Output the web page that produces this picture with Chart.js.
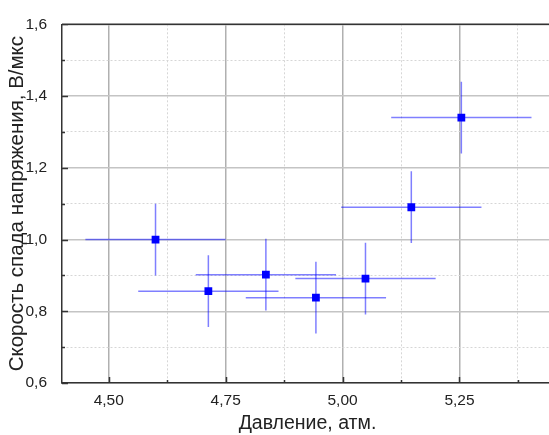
<!DOCTYPE html>
<html>
<head>
<meta charset="utf-8">
<script src="https://cdn.jsdelivr.net/npm/chart.js@4"></script>
<style>
  html, body { margin: 0; padding: 0; background: #fff; overflow: hidden; }
  #wrap { width: 549px; height: 435px; overflow: hidden; }
</style>
</head>
<body>
<div id="wrap"><canvas id="chart" width="560" height="435"></canvas></div>
<script>
const pressure = [4.600, 4.713, 4.836, 4.943, 5.049, 5.147, 5.254];
const pressureErr = [0.15, 0.15, 0.15, 0.15, 0.15, 0.15, 0.15];
const rate = [1.000, 0.856, 0.902, 0.838, 0.891, 1.090, 1.340];
const rateErr = [0.10, 0.10, 0.10, 0.10, 0.10, 0.10, 0.10];

const xTicks = [4.5, 4.625, 4.75, 4.875, 5.0, 5.125, 5.25, 5.375];
const yTicks = [0.6, 0.7, 0.8, 0.9, 1.0, 1.1, 1.2, 1.3, 1.4, 1.5, 1.6];

const xTitle = "Давление, атм.";
const yTitle = "Скорость спада напряжения, В/мкс";

const FONT = "'Liberation Sans', Arial, sans-serif";

const isMajorX = v => Math.abs(v * 4 - Math.round(v * 4)) < 1e-6;
const isMajorY = v => Math.round(v * 10) % 2 === 0;
const comma = (v, d) => v.toFixed(d).replace(".", ",");

/* ---------- datasets ---------- */
const barColor = "rgba(0, 0, 255, 0.5)";
const datasets = [
  {
    label: "points",
    data: pressure.map((p, i) => ({ x: p, y: rate[i] })),
    pointStyle: "rect",
    pointRadius: 5.5,
    backgroundColor: "#0000ff",
    borderColor: "#0000ff",
    borderWidth: 0,
    showLine: false
  }
];

pressure.forEach((p, i) => {
  datasets.push({
    data: [{ x: p - pressureErr[i], y: rate[i] }, { x: p + pressureErr[i], y: rate[i] }],
    showLine: true,
    borderColor: barColor,
    borderWidth: 1.5,
    pointRadius: 0
  });
  datasets.push({
    data: [{ x: p, y: rate[i] - rateErr[i] }, { x: p, y: rate[i] + rateErr[i] }],
    showLine: true,
    borderColor: barColor,
    borderWidth: 1.5,
    pointRadius: 0
  });
});

/* ---------- frame + inner ticks ---------- */
const frameTicks = {
  id: "frameTicks",
  afterDraw(chart) {
    const { ctx, chartArea: a, scales: { x, y } } = chart;
    ctx.save();
    ctx.strokeStyle = "#333";
    ctx.lineWidth = 1.5;
    ctx.beginPath();
    ctx.moveTo(a.left, a.top);
    ctx.lineTo(a.right + 5, a.top);
    x.ticks.forEach(t => {
      const px = Math.round(x.getPixelForValue(t.value)) + 0.5;
      const len = isMajorX(t.value) ? 6 : 3;
      ctx.moveTo(px, a.bottom);
      ctx.lineTo(px, a.bottom - len);
    });
    y.ticks.forEach(t => {
      const py = Math.round(y.getPixelForValue(t.value)) + 0.5;
      const len = isMajorY(t.value) ? 6 : 3;
      ctx.moveTo(a.left, py);
      ctx.lineTo(a.left + len, py);
    });
    ctx.stroke();
    ctx.restore();
  }
};

new Chart(document.getElementById("chart"), {
  type: "scatter",
  data: { datasets },
  options: {
    responsive: false,
    animation: false,
    layout: { padding: { left: 0, top: 22, right: 7, bottom: 0 } },
    plugins: { legend: { display: false }, tooltip: { enabled: false } },
    scales: {
      x: {
        type: "linear",
        min: 4.4,
        max: 5.45,
        afterBuildTicks: s => { s.ticks = xTicks.map(v => ({ value: v })); },
        afterFit: s => { s.height = 52; },
        ticks: {
          autoSkip: false,
          maxRotation: 0,
          padding: 8,
          color: "#222",
          font: { family: FONT, size: 15.5 },
          callback: v => (isMajorX(v) ? comma(v, 2) : "")
        },
        grid: {
          drawTicks: false,
          color: c => (c.tick && isMajorX(c.tick.value) ? "#b0b0b0" : "#d6d6d6"),
          lineWidth: c => (c.tick && isMajorX(c.tick.value) ? 1.5 : 1)
        },
        border: {
          color: "#333",
          width: 1.5,
          dash: c => (c.tick && !isMajorX(c.tick.value) ? [2, 2] : [])
        },
        title: {
          display: true,
          text: xTitle,
          color: "#222",
          font: { family: FONT, size: 19.5 },
          padding: { top: 2, bottom: 0 }
        }
      },
      y: {
        type: "linear",
        min: 0.6,
        max: 1.6,
        afterBuildTicks: s => { s.ticks = yTicks.map(v => ({ value: v })); },
        afterFit: s => { s.width = 62; },
        ticks: {
          autoSkip: false,
          padding: 15,
          color: "#222",
          font: { family: FONT, size: 15.5 },
          callback: v => (isMajorY(v) ? comma(v, 1) : "")
        },
        grid: {
          drawTicks: false,
          color: c => (c.tick && isMajorY(c.tick.value) ? "#c4c4c4" : "#d6d6d6"),
          lineWidth: c => (c.tick && isMajorY(c.tick.value) ? 1.5 : 1)
        },
        border: {
          color: "#333",
          width: 1.5,
          dash: c => (c.tick && !isMajorY(c.tick.value) ? [2, 2] : [])
        },
        title: {
          display: true,
          text: yTitle,
          color: "#222",
          font: { family: FONT, size: 20.5 },
          padding: { top: 5, bottom: 0 }
        }
      }
    }
  },
  plugins: [frameTicks]
});
</script>
</body>
</html>
